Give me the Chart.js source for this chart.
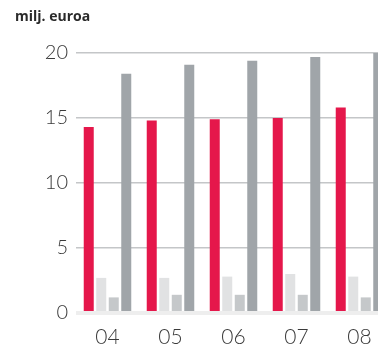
<!DOCTYPE html>
<html>
<head>
<meta charset="utf-8">
<script src="https://cdn.jsdelivr.net/npm/chart.js@4/dist/chart.umd.min.js"></script>
<style>
  html, body { margin: 0; padding: 0; background: #fff; overflow: hidden; }
  #wrap { position: relative; width: 391px; height: 345px; }
</style>
</head>
<body>
<div id="wrap"><canvas id="chart"></canvas></div>
<script>
// vuodet ja sarjat (milj. euroa)
const years = ['04', '05', '06', '07', '08'];
const seriesRed = [14.3, 14.8, 14.9, 15.0, 15.8];
const seriesLight = [2.7, 2.7, 2.8, 3.0, 2.8];
const seriesMid = [1.2, 1.4, 1.4, 1.4, 1.2];
const seriesDark = [18.4, 19.1, 19.4, 19.7, 20.0];
const yTicks = [0, 5, 10, 15, 20];
const unitLabel = 'milj. euroa';

const colors = ['#e5174b', '#e1e2e3', '#c5c8ca', '#a0a5a9'];

// yksikköteksti vasempaan yläkulmaan
const unitTitle = {
    id: 'unitTitle',
    afterDraw(chart) {
        const ctx = chart.ctx;
        ctx.save();
        ctx.font = 'bold 14px "Open Sans", sans-serif';
        ctx.fillStyle = '#2a2a2a';
        ctx.textBaseline = 'middle';
        ctx.fillText(unitLabel, 15, 17);
        ctx.restore();
    }
};

const makeSet = (data, i) => ({
    data: data,
    backgroundColor: colors[i],
    borderWidth: 0,
    barPercentage: 0.8,
    categoryPercentage: 0.794
});

new Chart(document.getElementById('chart'), {
    type: 'bar',
    data: {
        labels: years,
        datasets: [seriesRed, seriesLight, seriesMid, seriesDark].map(makeSet)
    },
    options: {
        responsive: true,
        maintainAspectRatio: false,
        animation: false,
        layout: { padding: { top: 53, left: 0, right: 0, bottom: 0 } },
        plugins: {
            legend: { display: false },
            tooltip: { enabled: false }
        },
        scales: {
            x: {
                grid: { display: false, drawTicks: false },
                border: { display: false },
                ticks: {
                    color: '#3a3a3a',
                    padding: 12,
                    font: { family: 'Lato', weight: '300', size: 21 }
                },
                afterFit(scale) { scale.height = 32; }
            },
            y: {
                min: 0,
                max: 20,
                afterBuildTicks(scale) {
                    scale.ticks = yTicks.map(v => ({ value: v }));
                },
                grid: {
                    drawTicks: false,
                    color: ctx => ctx.tick && ctx.tick.value === 0 ? '#eeeeee' : '#c4c6c8',
                    lineWidth: ctx => ctx.tick && ctx.tick.value === 0 ? 4 : 1.5
                },
                border: { display: false },
                ticks: {
                    color: '#3a3a3a',
                    padding: 8,
                    font: { family: 'Lato', weight: '300', size: 20 }
                },
                afterFit(scale) { scale.width = 76; }
            }
        }
    },
    plugins: [unitTitle]
});
</script>
</body>
</html>
